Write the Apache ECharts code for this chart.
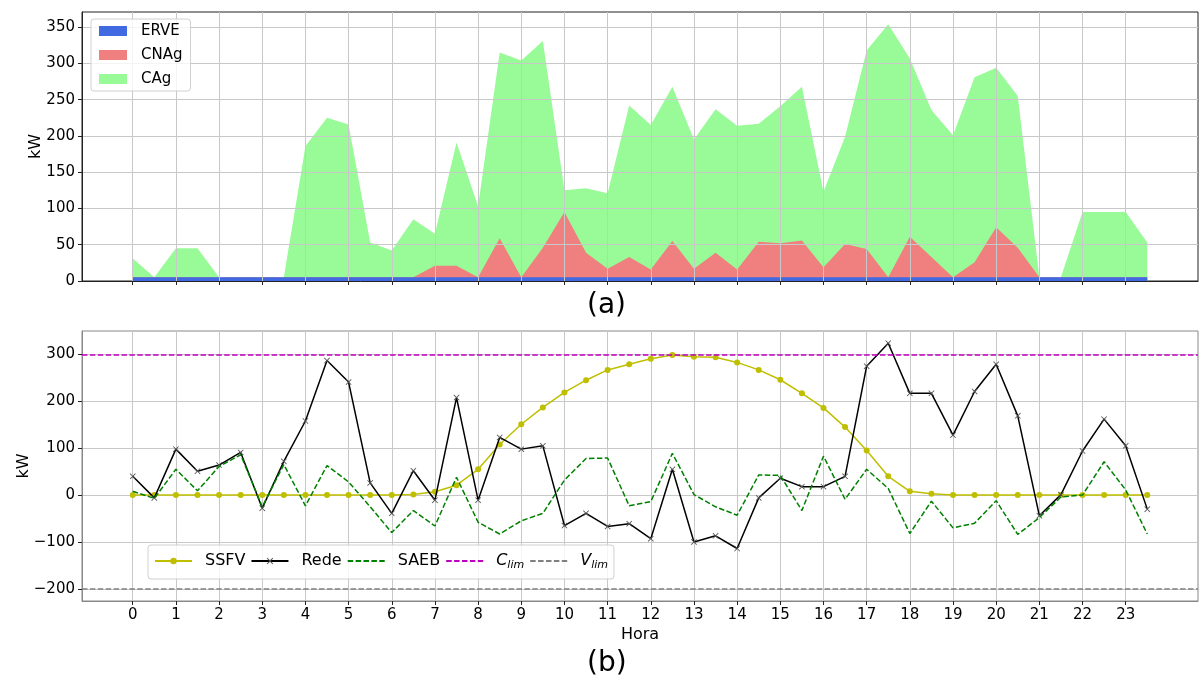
<!DOCTYPE html>
<html>
<head>
<meta charset="utf-8">
<script src="https://cdn.jsdelivr.net/npm/echarts@6/dist/echarts.min.js"></script>
<style>
html, body { margin: 0; padding: 0; background: #fff; }
#main { width: 1202px; height: 681px; }
</style>
</head>
<body>
<div id="main"></div>
<script>
// half-hour steps of the day
const hours = [0, 0.5, 1, 1.5, 2, 2.5, 3, 3.5, 4, 4.5, 5, 5.5, 6, 6.5, 7, 7.5,
    8, 8.5, 9, 9.5, 10, 10.5, 11, 11.5, 12, 12.5, 13, 13.5, 14, 14.5, 15, 15.5,
    16, 16.5, 17, 17.5, 18, 18.5, 19, 19.5, 20, 20.5, 21, 21.5, 22, 22.5, 23, 23.5];

// (a) stacked loads, kW
const erve = [5, 5, 5, 5, 5, 5, 5, 5, 5, 5, 5, 5, 5, 5, 5, 5,
    5, 5, 5, 5, 5, 5, 5, 5, 5, 5, 5, 5, 5, 5, 5, 5,
    5, 5, 5, 5, 5, 5, 5, 5, 5, 5, 5, 5, 5, 5, 5, 5];
const cnag = [0, 0, 0, 0, 0, 0, 0, 0, 0, 0, 0, 0, 0, 0, 16, 16,
    0, 54, 0, 41, 90, 34, 12, 28, 11, 50, 12, 34, 11, 49, 47, 51,
    14, 46, 39, 0, 56, 28, 0, 21, 69, 41, 0, 0, 0, 0, 0, 0];
const cag = [26, 0, 40, 40, 0, 0, 0, 0, 181, 220, 211, 48, 37, 80, 44, 170,
    98, 256, 299, 285, 30, 89, 104, 209, 199, 213, 178, 198, 198, 163, 189, 212,
    104, 148, 274, 349, 246, 203, 196, 255, 220, 209, 0, 0, 90, 90, 90, 48];

// (b) power flows, kW
const ssfv = [0, 0, 0, 0, 0, 0, 0, 0, 0, 0, 0, 0, 0, 1, 7, 21,
    55, 108, 151, 187, 219, 245, 267, 279, 291, 299, 295, 294, 283, 267, 246, 217,
    186, 145, 95, 40, 8, 3, 0, 0, 0, 0, 0, 0, 0, 0, 0, 0];
const rede = [40, -6, 98, 51, 64, 91, -28, 72, 158, 287, 241, 26, -39, 52, -11, 208,
    -11, 123, 98, 105, -65, -39, -67, -61, -93, 55, -100, -87, -114, -6, 36, 18,
    18, 40, 275, 324, 217, 217, 128, 221, 279, 169, -44, 1, 94, 162, 105, -30];
const saeb = [8, -7, 55, 9, 61, 86, -25, 65, -23, 63, 28, -25, -80, -33, -66, 38,
    -58, -83, -55, -39, 32, 78, 79, -23, -14, 89, 1, -25, -43, 43, 42, -33,
    83, -9, 55, 14, -82, -13, -70, -60, -12, -84, -48, -4, 0, 71, 11, -83];
const cLim = 300;
const vLim = -200;

const hourTicks = [0, 1, 2, 3, 4, 5, 6, 7, 8, 9, 10, 11, 12, 13, 14, 15, 16, 17, 18, 19, 20, 21, 22, 23];
const topTicks = [0, 50, 100, 150, 200, 250, 300, 350];
const bottomTicks = [-200, -100, 0, 100, 200, 300];

const FONT = 'DejaVu Sans';
const GRID = '#c8c8c8';
const dash = [5.5, 2.4];
const crossPath = 'path://M0,1L1,0L5,4L9,0L10,1L6,5L10,9L9,10L5,6L1,10L0,9L4,5Z';

function pairs(vals) {
    return hours.map(function (h, i) { return [h, vals[i]]; });
}
// running sum of several layers, for the stack plot
function cumulative(layers) {
    return hours.map(function (h, i) {
        return layers.reduce(function (s, arr) { return s + arr[i]; }, 0);
    });
}
function minusFmt(v) {
    return String(v).replace('-', '\u2212');
}

function hourAxis(gridIndex, showLabels, spine) {
    return {
        type: 'value', gridIndex: gridIndex, min: -1.175, max: 24.675,
        z: gridIndex === 0 ? 3 : 0,
        axisLine: { show: true, onZero: false, lineStyle: { color: spine, width: 1 } },
        axisTick: { show: true, customValues: hourTicks, length: 4, lineStyle: { color: '#222' } },
        axisLabel: { show: showLabels, customValues: hourTicks, margin: 7, fontFamily: FONT, fontSize: 15, color: '#000' },
        splitLine: { show: true, lineStyle: { color: GRID, width: 1 } },
        name: showLabels ? 'Hora' : '', nameLocation: 'middle', nameGap: 26,
        nameTextStyle: { fontFamily: FONT, fontSize: 16, color: '#000' }
    };
}
function kwAxis(gridIndex, min, max, ticks, gap, spine) {
    return {
        type: 'value', gridIndex: gridIndex, min: min, max: max,
        z: gridIndex === 0 ? 3 : 0,
        axisLine: { show: true, onZero: false, lineStyle: { color: spine, width: 1 } },
        axisTick: { show: true, customValues: ticks, length: 4, lineStyle: { color: '#222' } },
        axisLabel: { customValues: ticks, margin: 7, fontFamily: FONT, fontSize: 15, color: '#000', formatter: minusFmt },
        splitLine: { show: true, lineStyle: { color: GRID, width: 1 } },
        name: 'kW', nameLocation: 'middle', nameRotate: 90, nameGap: gap, nameMoveOverlap: false,
        nameTextStyle: { fontFamily: FONT, fontSize: 16, color: '#000' }
    };
}
function layerArea(name, vals, color) {
    return {
        name: name, type: 'line', xAxisIndex: 0, yAxisIndex: 0,
        data: pairs(vals), showSymbol: false, symbol: 'none', z: 1,
        itemStyle: { color: color }, lineStyle: { width: 0, color: color },
        areaStyle: { color: color, opacity: 1 }
    };
}
function limitLine(name, value, color) {
    return {
        name: name, type: 'line', xAxisIndex: 1, yAxisIndex: 1, data: [],
        symbol: 'none', z: 5,
        itemStyle: { color: color }, lineStyle: { color: color, width: 1.5, type: dash },
        markLine: {
            silent: true, symbol: 'none', label: { show: false },
            lineStyle: { color: color, width: 1.5, type: dash },
            data: [{ yAxis: value }]
        }
    };
}

function drawChart() {
    var chartDom = document.getElementById('main');
    var myChart = echarts.init(chartDom, null, { renderer: 'canvas' });
    var noSymbol = { opacity: 0 };
    var option = {
        backgroundColor: '#fff',
        animation: false,
        grid: [
            { left: 82, top: 12, width: 1116, height: 269, show: true, borderColor: '#222', borderWidth: 1, outerBoundsMode: 'none' },
            { left: 82, top: 331, width: 1116, height: 270, show: true, borderColor: '#888', borderWidth: 1, outerBoundsMode: 'none' }
        ],
        xAxis: [hourAxis(0, false, '#222'), hourAxis(1, true, '#888')],
        yAxis: [kwAxis(0, 0, 371, topTicks, 38, '#222'), kwAxis(1, -226, 350, bottomTicks, 50, '#888')],
        legend: [
            {
                data: ['ERVE', 'CNAg', 'CAg'], orient: 'vertical', left: 91, top: 19,
                icon: 'rect', itemWidth: 28, itemHeight: 10, itemGap: 6,
                padding: [3, 8, 3, 8], backgroundColor: 'rgba(255,255,255,0.8)',
                borderColor: '#d0d0d0', borderWidth: 1, borderRadius: 3,
                textStyle: { fontFamily: FONT, fontSize: 15, color: '#000', lineHeight: 18, padding: [0, 0, 0, 9] },
                z: 10
            },
            {
                data: [
                    'SSFV', 'Rede',
                    { name: 'SAEB', itemStyle: noSymbol },
                    { name: 'Clim', itemStyle: noSymbol },
                    { name: 'Vlim', itemStyle: noSymbol }
                ],
                orient: 'horizontal', left: 148, top: 545,
                itemWidth: 37, itemHeight: 8, itemGap: 5,
                padding: [8, 6, 8, 6], backgroundColor: 'rgba(255,255,255,0.8)',
                borderColor: '#d0d0d0', borderWidth: 1, borderRadius: 3,
                formatter: function (name) {
                    if (name === 'Clim') return '{i|C}{s|lim}';
                    if (name === 'Vlim') return '{i|V}{s|lim}';
                    return name;
                },
                textStyle: {
                    fontFamily: FONT, fontSize: 16, color: '#000', padding: [0, 0, 0, 8],
                    rich: {
                        i: { fontFamily: FONT, fontSize: 16, fontStyle: 'italic', color: '#000' },
                        s: { fontFamily: FONT, fontSize: 11, fontStyle: 'italic', color: '#000', padding: [9, 0, 0, 0] }
                    }
                },
                z: 10
            }
        ],
        graphic: [
            { type: 'text', left: 587, top: 292, style: { text: '(a)', font: '28px "DejaVu Sans"', fill: '#000' } },
            { type: 'text', left: 587, top: 650, style: { text: '(b)', font: '28px "DejaVu Sans"', fill: '#000' } }
        ],
        series: [
            // drawn back to front: the full stack, then the lower layers over it
            layerArea('CAg', cumulative([erve, cnag, cag]), '#98fb98'),
            layerArea('CNAg', cumulative([erve, cnag]), '#f08080'),
            layerArea('ERVE', cumulative([erve]), '#4169e1'),
            {
                name: 'SSFV', type: 'line', xAxisIndex: 1, yAxisIndex: 1, data: pairs(ssfv),
                symbol: 'circle', symbolSize: 6, z: 2,
                itemStyle: { color: '#bfbf00' }, lineStyle: { color: '#bfbf00', width: 1.5 }
            },
            {
                name: 'Rede', type: 'line', xAxisIndex: 1, yAxisIndex: 1, data: pairs(rede),
                symbol: crossPath, symbolSize: 6, z: 3,
                itemStyle: { color: '#555' }, lineStyle: { color: '#000', width: 1.5 }
            },
            {
                name: 'SAEB', type: 'line', xAxisIndex: 1, yAxisIndex: 1, data: pairs(saeb),
                symbol: 'none', z: 4,
                itemStyle: { color: '#008000' }, lineStyle: { color: '#008000', width: 1.5, type: dash }
            },
            limitLine('Clim', cLim, '#bf00bf'),
            limitLine('Vlim', vLim, '#808080')
        ]
    };
    myChart.setOption(option);
}
drawChart();
</script>
</body>
</html>
